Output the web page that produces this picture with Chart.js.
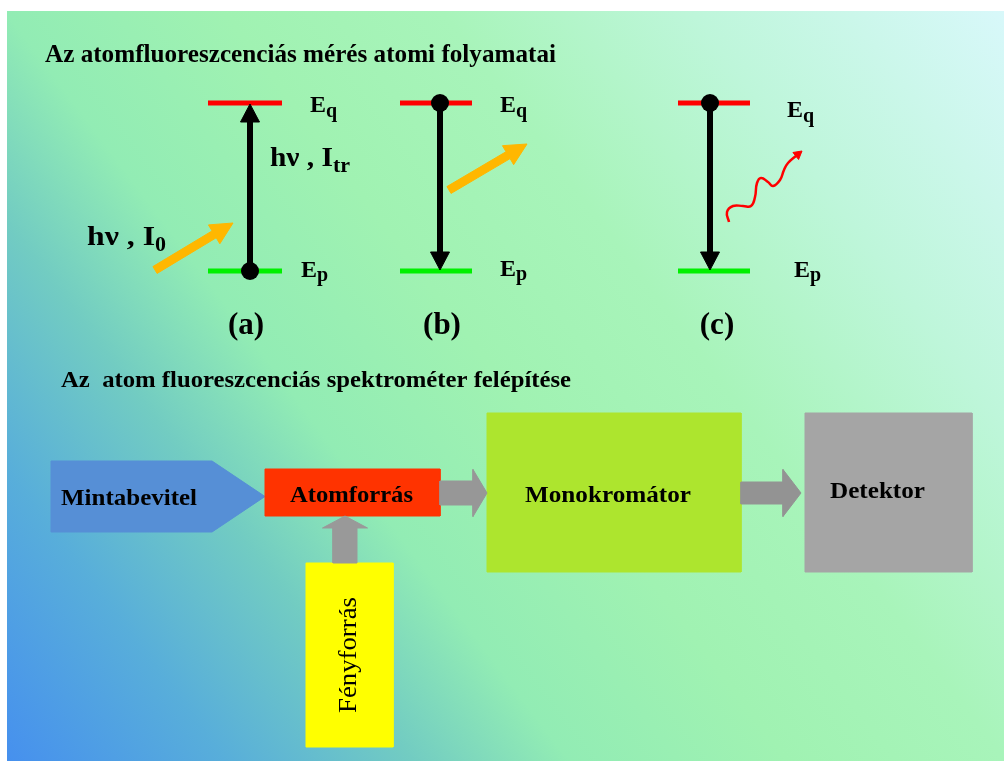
<!DOCTYPE html>
<html>
<head>
<meta charset="utf-8">
<script src="https://cdn.jsdelivr.net/npm/chart.js@4.4.0/dist/chart.umd.min.js"></script>
<style>
  html, body { margin: 0; padding: 0; background: #fff; }
  #chart { display: block; }
</style>
</head>
<body>
<canvas id="chart" width="1004" height="761"></canvas>
<script>
// Level diagram: three panels (a) (b) (c)
const panelLabels = ['(a)', '(b)', '(c)'];
const levelStartX = [208, 400, 678];
const levelEndX = [282, 472, 750];
const upperLevelY = 103;
const lowerLevelY = 271;
const upperLevelName = ['E', 'q'];
const lowerLevelName = ['E', 'p'];

// vertical transitions (from -> to), dot marks the starting state
const transitionX = [250, 440, 710];
const transitionFromY = [271, 103, 103];
const transitionToY = [104, 270, 270];

// photon arrows: absorbed (a), transmitted (b)
const photonTail = [[155, 270], [449, 190]];
const photonTip = [[233, 223], [527, 144]];
const photonLabels = [['hν , I', '0'], ['hν , I', 'tr']];

// fluorescence photon (c)
const waveX = [729, 727, 733, 743, 751, 755, 757, 761, 768, 773, 780, 784, 788, 797];
const waveY = [222, 212, 206, 206, 206, 197, 183, 178, 182, 186, 180, 170, 163, 155];
const waveTip = [802, 151];

// spectrometer blocks
const titles = ['Az atomfluoreszcenciás mérés atomi folyamatai',
                'Az  atom fluoreszcenciás spektrométer felépítése'];
const boxLabels = ['Mintabevitel', 'Atomforrás', 'Monokromátor', 'Detektor', 'Fényforrás'];
const boxLeft = [51, 265, 487, 805, 306];
const boxRight = [212, 440, 741, 972, 393];
const boxTop = [461, 469, 413, 413, 563];
const boxBottom = [532, 516, 572, 572, 747];
const inletTipX = 265;

// block arrows between units
const flowTail = [[440, 493], [741, 493], [345, 563]];
const flowTip = [[487, 493], [801, 493], [345, 516]];

// ---- styling ----
const boxColors = ['#568FD6', '#FF3300', '#ADE52E', '#A5A5A5', '#FFFF00'];
const flowColors = ['#979797', '#939393', '#999999'];
const flowHeadLength = [14, 18, 12];
const flowBodyHalf = [12, 11, 12];
const flowHeadHalf = [23.5, 23.5, 22.5];
const serif = '"Liberation Serif", "Times New Roman", serif';

function toPoints(list) {
  return list.map(p => ({ x: p[0], y: p[1] }));
}

function polygon(points, color) {
  return {
    data: toPoints(points.concat([points[0]])),
    borderColor: color,
    backgroundColor: color,
    borderWidth: 1,
    fill: 'shape',
    pointRadius: 0,
    tension: 0
  };
}

function segment(p0, p1, color, width) {
  return {
    data: toPoints([p0, p1]),
    borderColor: color,
    borderWidth: width,
    borderCapStyle: 'butt',
    fill: false,
    pointRadius: 0
  };
}

function blockArrow(tail, tip, headLen, bodyHalf, headHalf) {
  const dx = tip[0] - tail[0], dy = tip[1] - tail[1];
  const len = Math.hypot(dx, dy);
  const ux = dx / len, uy = dy / len, nx = -uy, ny = ux;
  const bx = tip[0] - ux * headLen, by = tip[1] - uy * headLen;
  return [
    [tail[0] + nx * bodyHalf, tail[1] + ny * bodyHalf],
    [bx + nx * bodyHalf, by + ny * bodyHalf],
    [bx + nx * headHalf, by + ny * headHalf],
    tip,
    [bx - nx * headHalf, by - ny * headHalf],
    [bx - nx * bodyHalf, by - ny * bodyHalf],
    [tail[0] - nx * bodyHalf, tail[1] - ny * bodyHalf]
  ];
}

// datasets pushed back-to-front, reversed at the end
const datasets = [];

// boxes
boxLabels.forEach((name, i) => {
  let pts = [[boxLeft[i], boxTop[i]], [boxRight[i], boxTop[i]],
             [boxRight[i], boxBottom[i]], [boxLeft[i], boxBottom[i]]];
  if (i === 0) {
    pts = [[boxLeft[i], boxTop[i]], [boxRight[i], boxTop[i]],
           [inletTipX, (boxTop[i] + boxBottom[i]) / 2],
           [boxRight[i], boxBottom[i]], [boxLeft[i], boxBottom[i]]];
  }
  datasets.push(polygon(pts, boxColors[i]));
});

// grey flow arrows
flowTail.forEach((t, i) => {
  datasets.push(polygon(blockArrow(t, flowTip[i], flowHeadLength[i], flowBodyHalf[i], flowHeadHalf[i]), flowColors[i]));
});

// energy levels
levelStartX.forEach((x0, i) => {
  datasets.push(segment([x0, upperLevelY], [levelEndX[i], upperLevelY], '#FF0000', 5));
  datasets.push(segment([x0, lowerLevelY], [levelEndX[i], lowerLevelY], '#00F000', 5));
});

// photon arrows
photonTail.forEach((t, i) => {
  datasets.push(polygon(blockArrow(t, photonTip[i], 22, 4, 11), '#FFB700'));
});

// transitions
transitionX.forEach((x, i) => {
  const from = [x, transitionFromY[i]];
  const tip = [x, transitionToY[i]];
  const dir = Math.sign(tip[1] - from[1]);
  const base = [x, tip[1] - dir * 18];
  datasets.push(segment(from, [x, base[1] + dir * 1], '#000000', 6));
  datasets.push(polygon([[x - 9.5, base[1]], tip, [x + 9.5, base[1]]], '#000000'));
});

// state dots
datasets.push({
  data: transitionX.map((x, i) => ({ x: x, y: transitionFromY[i] })),
  showLine: false,
  pointRadius: 9,
  pointBackgroundColor: '#000000',
  pointBorderWidth: 0
});

// fluorescence wave
datasets.push({
  data: waveX.map((x, i) => ({ x: x, y: waveY[i] })),
  borderColor: '#FF0000',
  borderWidth: 2.5,
  tension: 0.45,
  fill: false,
  pointRadius: 0
});
const waveLast = [waveX[waveX.length - 1], waveY[waveY.length - 1]];
datasets.push(polygon(blockArrow(waveLast, waveTip, 8, 0, 4.5).slice(2, 5), '#FF0000'));

datasets.reverse();

// ---- text layout ----
const textItems = [
  { text: titles[0], x: 45, y: 62, size: 26, width: 511 },
  { text: titles[1], x: 61, y: 387, size: 24, width: 510 },
  { text: boxLabels[0], x: 61, y: 505, size: 24, width: 136 },
  { text: boxLabels[1], x: 290, y: 502, size: 24, width: 123 },
  { text: boxLabels[2], x: 525, y: 502, size: 24, width: 166 },
  { text: boxLabels[3], x: 830, y: 498, size: 24, width: 95 },
  { text: boxLabels[4], x: 356, y: 713, size: 25, width: 116, rotate: -Math.PI / 2, weight: 'normal' }
];
const panelLabelX = [246, 442, 717];
const upperNameX = [310, 500, 787];
const upperNameY = [112, 112, 117];
const lowerNameX = [301, 500, 794];
const lowerNameY = [277, 276, 277];
const photonLabelX = [87, 270];
const photonLabelY = [245, 166];
const photonMainWidth = [68, 63];

const backgroundPlugin = {
  id: 'slideBackground',
  beforeDraw(chart) {
    const ctx = chart.ctx;
    const w = chart.width, h = chart.height;
    ctx.save();
    ctx.fillStyle = '#ffffff';
    ctx.fillRect(0, 0, w, h);
    const g = ctx.createLinearGradient(7, h, w, 11);
    g.addColorStop(0, '#4690EE');
    g.addColorStop(0.14, '#58AEDA');
    g.addColorStop(0.26, '#72CCC2');
    g.addColorStop(0.36, '#92ECB4');
    g.addColorStop(0.5, '#A0F2B2');
    g.addColorStop(0.64, '#A8F4BA');
    g.addColorStop(0.8, '#BEF6DA');
    g.addColorStop(1, '#D8F8FA');
    ctx.fillStyle = g;
    ctx.fillRect(7, 11, w - 7, h - 11);
    ctx.restore();
  }
};

function fitText(ctx, text, x, y, font, width, rotate) {
  ctx.font = font;
  const natural = ctx.measureText(text).width;
  const sx = width ? width / natural : 1;
  ctx.save();
  ctx.translate(x, y);
  if (rotate) ctx.rotate(rotate);
  ctx.scale(sx, 1);
  ctx.fillText(text, 0, 0);
  ctx.restore();
  return natural * sx;
}

function subText(ctx, main, sub, x, y, size, subSize, drop, mainWidth) {
  const w = fitText(ctx, main, x, y, 'bold ' + size + 'px ' + serif, mainWidth);
  fitText(ctx, sub, x + w, y + drop, 'bold ' + subSize + 'px ' + serif);
}

const labelPlugin = {
  id: 'diagramLabels',
  afterDatasetsDraw(chart) {
    const ctx = chart.ctx;
    const sx = chart.scales.x, sy = chart.scales.y;
    const px = v => sx.getPixelForValue(v);
    const py = v => sy.getPixelForValue(v);
    ctx.save();
    ctx.fillStyle = '#000000';
    ctx.textBaseline = 'alphabetic';
    ctx.textAlign = 'left';

    textItems.forEach(t => {
      const font = (t.weight || 'bold') + ' ' + t.size + 'px ' + serif;
      fitText(ctx, t.text, px(t.x), py(t.y), font, t.width, t.rotate);
    });

    panelLabels.forEach((label, i) => {
      ctx.font = 'bold 31px ' + serif;
      ctx.textAlign = 'center';
      ctx.fillText(label, px(panelLabelX[i]), py(334));
      ctx.textAlign = 'left';
      subText(ctx, upperLevelName[0], upperLevelName[1], px(upperNameX[i]), py(upperNameY[i]), 24, 20, 5);
      subText(ctx, lowerLevelName[0], lowerLevelName[1], px(lowerNameX[i]), py(lowerNameY[i]), 24, 20, 4);
    });

    photonLabels.forEach((l, i) => {
      subText(ctx, l[0], l[1], px(photonLabelX[i]), py(photonLabelY[i]), 28, 22, 6, photonMainWidth[i]);
    });
    ctx.restore();
  }
};

new Chart(document.getElementById('chart'), {
  type: 'line',
  data: { datasets: datasets },
  options: {
    responsive: false,
    maintainAspectRatio: false,
    devicePixelRatio: 1,
    animation: false,
    events: [],
    layout: { padding: 0, autoPadding: false },
    plugins: {
      legend: { display: false },
      tooltip: { enabled: false }
    },
    scales: {
      x: { type: 'linear', min: 0, max: 1004, display: false },
      y: { type: 'linear', min: 0, max: 761, reverse: true, display: false }
    }
  },
  plugins: [backgroundPlugin, labelPlugin]
});
</script>
</body>
</html>
